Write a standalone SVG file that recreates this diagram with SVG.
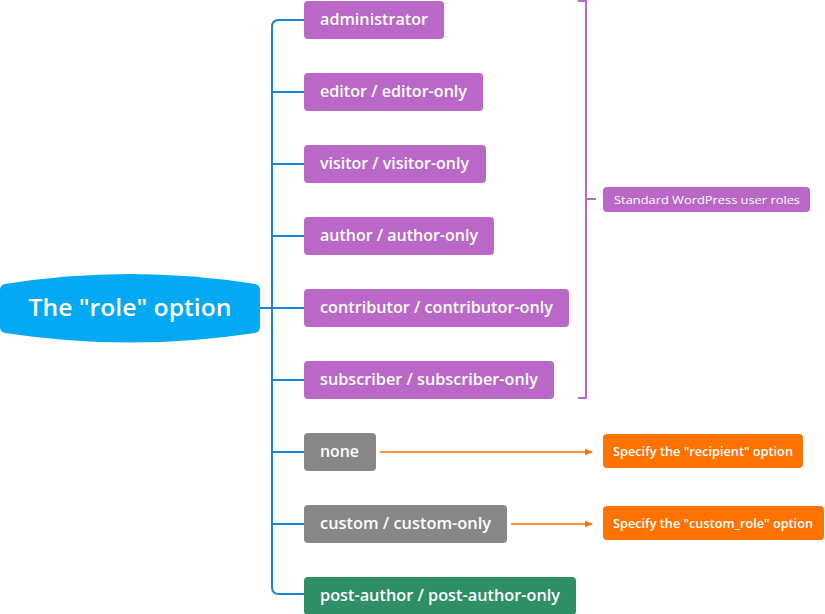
<svg xmlns="http://www.w3.org/2000/svg" width="825" height="614" viewBox="0 0 825 614">
<style>
.t{font-family:"Open Sans","Noto Sans","Liberation Sans",sans-serif;fill:#fff;font-weight:600}
.n{font-size:15.5px}
.s{font-weight:400}
.pur{fill:#BA68C8}
.gry{fill:#878787}
.grn{fill:#2E8F66}
.org{fill:#FF7200}
.spine{fill:none;stroke:#1A85D0;stroke-width:2}
.br{fill:none;stroke:#BA68C8;stroke-width:2}
.ar{fill:none;stroke:#FF7200;stroke-width:1.6}
</style>
<defs>
<marker id="ah" markerWidth="8" markerHeight="8" refX="7" refY="4" orient="auto" markerUnits="userSpaceOnUse">
<path d="M0,0.8 L8,4 L0,7.2 Z" fill="#FF7200"/>
</marker>
</defs>
<g id="connectors">
<path class="spine" d="M304,20 H279 Q272,20 272,27 V587 Q272,594 279,594 H304"/>
<path class="spine" d="M272,92 H304 M272,164 H304 M272,236 H304 M260,308 H304 M272,380 H304 M272,452 H304 M272,524 H304"/>
<path class="br" d="M578,1 H586 V398 H578 M586,199 H596"/>
<path class="ar" d="M380,452 H592" marker-end="url(#ah)"/>
<path class="ar" d="M511,524 H592" marker-end="url(#ah)"/>
</g>
<g id="root">
<path d="M0,290 Q0,285 5,284 Q130,264 255,284 Q260,285 260,290 L260,327 Q260,332 255,333 Q130,352 5,333 Q0,332 0,327 Z" fill="#03A9F4"/>
<text class="t" x="130" y="315.5" font-size="24" text-anchor="middle" textLength="203" lengthAdjust="spacingAndGlyphs">The "role" option</text>
</g>
<g id="administrator"><rect class="pur" x="304" y="1" width="140" height="38" rx="4"/><text class="t n" x="320" y="25" textLength="108" lengthAdjust="spacingAndGlyphs">administrator</text></g>
<g id="editor"><rect class="pur" x="304" y="73" width="179" height="38" rx="4"/><text class="t n" x="320" y="97" textLength="147" lengthAdjust="spacingAndGlyphs">editor / editor-only</text></g>
<g id="visitor"><rect class="pur" x="304" y="145" width="182" height="38" rx="4"/><text class="t n" x="320" y="169" textLength="149" lengthAdjust="spacingAndGlyphs">visitor / visitor-only</text></g>
<g id="author"><rect class="pur" x="304" y="217" width="190" height="38" rx="4"/><text class="t n" x="320" y="241" textLength="158" lengthAdjust="spacingAndGlyphs">author / author-only</text></g>
<g id="contributor"><rect class="pur" x="304" y="289" width="265" height="38" rx="4"/><text class="t n" x="320" y="313" textLength="233" lengthAdjust="spacingAndGlyphs">contributor / contributor-only</text></g>
<g id="subscriber"><rect class="pur" x="304" y="361" width="250" height="38" rx="4"/><text class="t n" x="320" y="385" textLength="218" lengthAdjust="spacingAndGlyphs">subscriber / subscriber-only</text></g>
<g id="none"><rect class="gry" x="304" y="433" width="72" height="38" rx="4"/><text class="t n" x="320" y="457" textLength="39" lengthAdjust="spacingAndGlyphs">none</text></g>
<g id="custom"><rect class="gry" x="304" y="505" width="203" height="38" rx="4"/><text class="t n" x="320" y="529" textLength="171" lengthAdjust="spacingAndGlyphs">custom / custom-only</text></g>
<g id="post-author"><rect class="grn" x="304" y="577" width="272" height="38" rx="4"/><text class="t n" x="320" y="601" textLength="240" lengthAdjust="spacingAndGlyphs">post-author / post-author-only</text></g>
<g id="standard"><rect class="pur" x="603" y="187" width="207" height="25" rx="4"/><text class="t s" x="614" y="203.5" font-size="11.5" textLength="186" lengthAdjust="spacingAndGlyphs">Standard WordPress user roles</text></g>
<g id="recipient"><rect class="org" x="603" y="434" width="200" height="34" rx="4"/><text class="t" x="613" y="455.5" font-size="12" textLength="180" lengthAdjust="spacingAndGlyphs">Specify the "recipient" option</text></g>
<g id="custom_role"><rect class="org" x="603" y="506" width="221" height="34" rx="4"/><text class="t" x="613" y="527.5" font-size="12" textLength="200" lengthAdjust="spacingAndGlyphs">Specify the "custom_role" option</text></g>
</svg>
